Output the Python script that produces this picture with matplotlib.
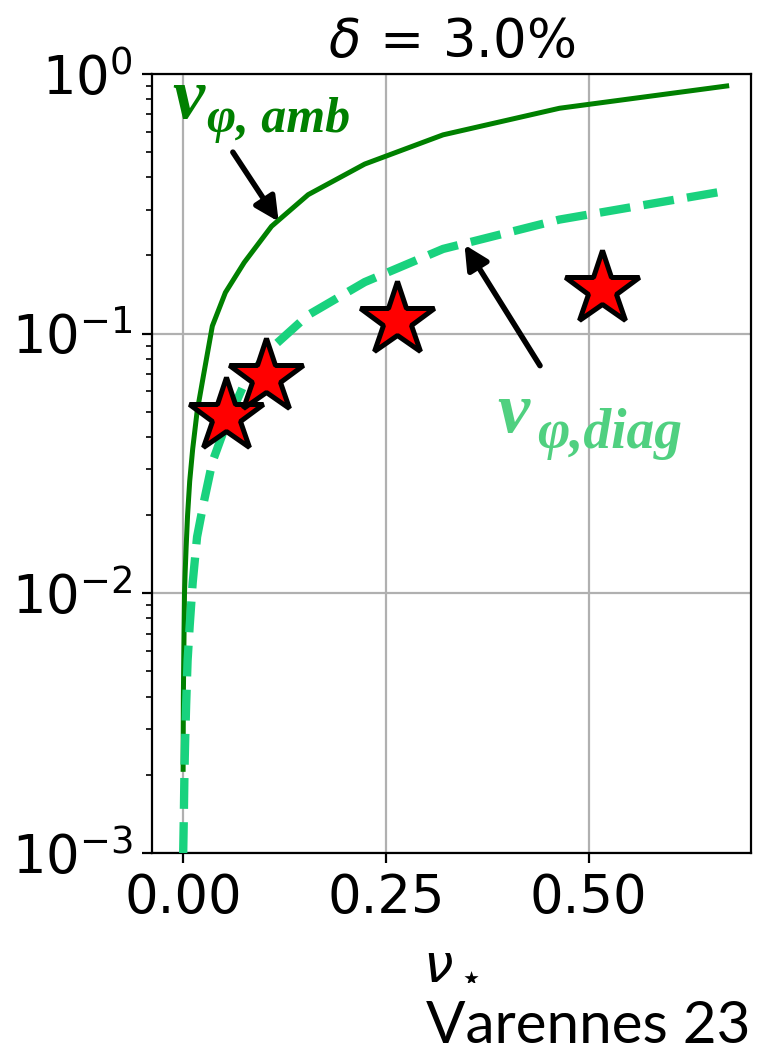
import matplotlib
matplotlib.use("Agg")
import matplotlib.pyplot as plt

# curves
nu_grid = [0.0003, 0.0006, 0.0012, 0.002, 0.0028, 0.004, 0.0058, 0.0084, 0.0121,
           0.0175, 0.0252, 0.0363, 0.0524, 0.0756, 0.1092, 0.1544, 0.2241, 0.3206,
           0.464, 0.67]
amb = [0.0021, 0.004, 0.006, 0.01, 0.012, 0.015, 0.02, 0.027, 0.036,
       0.05, 0.0685, 0.107, 0.144, 0.188, 0.259, 0.343, 0.45, 0.583,
       0.738, 0.899]

nu_diag = [0.0004, 0.0012, 0.002, 0.0028, 0.004, 0.0058, 0.0084, 0.0121,
           0.0175, 0.0252, 0.0363, 0.0524, 0.0756, 0.1092, 0.1544, 0.2241,
           0.3206, 0.464, 0.67]
diag = [0.001, 0.0014, 0.0021, 0.0027, 0.0037, 0.0055, 0.0075, 0.011,
        0.0165, 0.022, 0.032, 0.044, 0.064, 0.088, 0.118, 0.158,
        0.212, 0.275, 0.355]

# measured points (stars)
star_nu = [0.053, 0.103, 0.264, 0.517]
star_val = [0.048, 0.068, 0.113, 0.148]

fig = plt.figure(figsize=(3.795, 5.285), dpi=200)
ax = fig.add_axes([0.2003, 0.193, 0.7892, 0.737])

ax.plot(nu_grid, amb, color="green", lw=1.8, zorder=3)
ax.plot(nu_diag, diag, color="#19d27e", lw=3, ls="--", zorder=3)
ax.plot(star_nu, star_val, ls="none", marker="*", ms=28, mfc="red",
        mec="black", mew=1.8, zorder=5)

ax.set_yscale("log")
ax.set_ylim(1e-3, 1)
ax.set_xlim(-0.038, 0.70)
ax.set_xticks([0, 0.25, 0.5])
ax.grid(True, which="major", color="#b0b0b0", lw=0.8)
ax.tick_params(labelsize=19)
ax.set_title(r"$\delta\,=\,3.0\%$", fontsize=19)
ax.set_xlabel(r"$\nu_\star$", fontsize=19)

# arrows
ax.annotate("", xy=(0.118, 0.27), xytext=(0.0616, 0.50),
            arrowprops=dict(arrowstyle="-|>", lw=2, color="black",
                            mutation_scale=18, shrinkA=0, shrinkB=0))
ax.annotate("", xy=(0.347, 0.22), xytext=(0.44, 0.0753),
            arrowprops=dict(arrowstyle="-|>", lw=2, color="black",
                            mutation_scale=18, shrinkA=0, shrinkB=0))

lab = dict(family="Liberation Serif", weight="bold", style="italic",
           ha="left", va="center")
ax.text(-0.0135, 0.79, "ν", fontsize=26, color="green", **lab)
ax.text(0.030, 0.665, "φ, amb", fontsize=18, color="green", **lab)
ax.text(0.387, 0.049, "ν", fontsize=26, color="#50d080", **lab)
ax.text(0.436, 0.041, "φ,diag", fontsize=20, color="#50d080", **lab)

fig.text(0.988, 0.004, "Varennes 23", fontsize=21, family="Lato",
         ha="right", va="bottom")

fig.savefig("out.png", dpi=200)
plt.close(fig)
